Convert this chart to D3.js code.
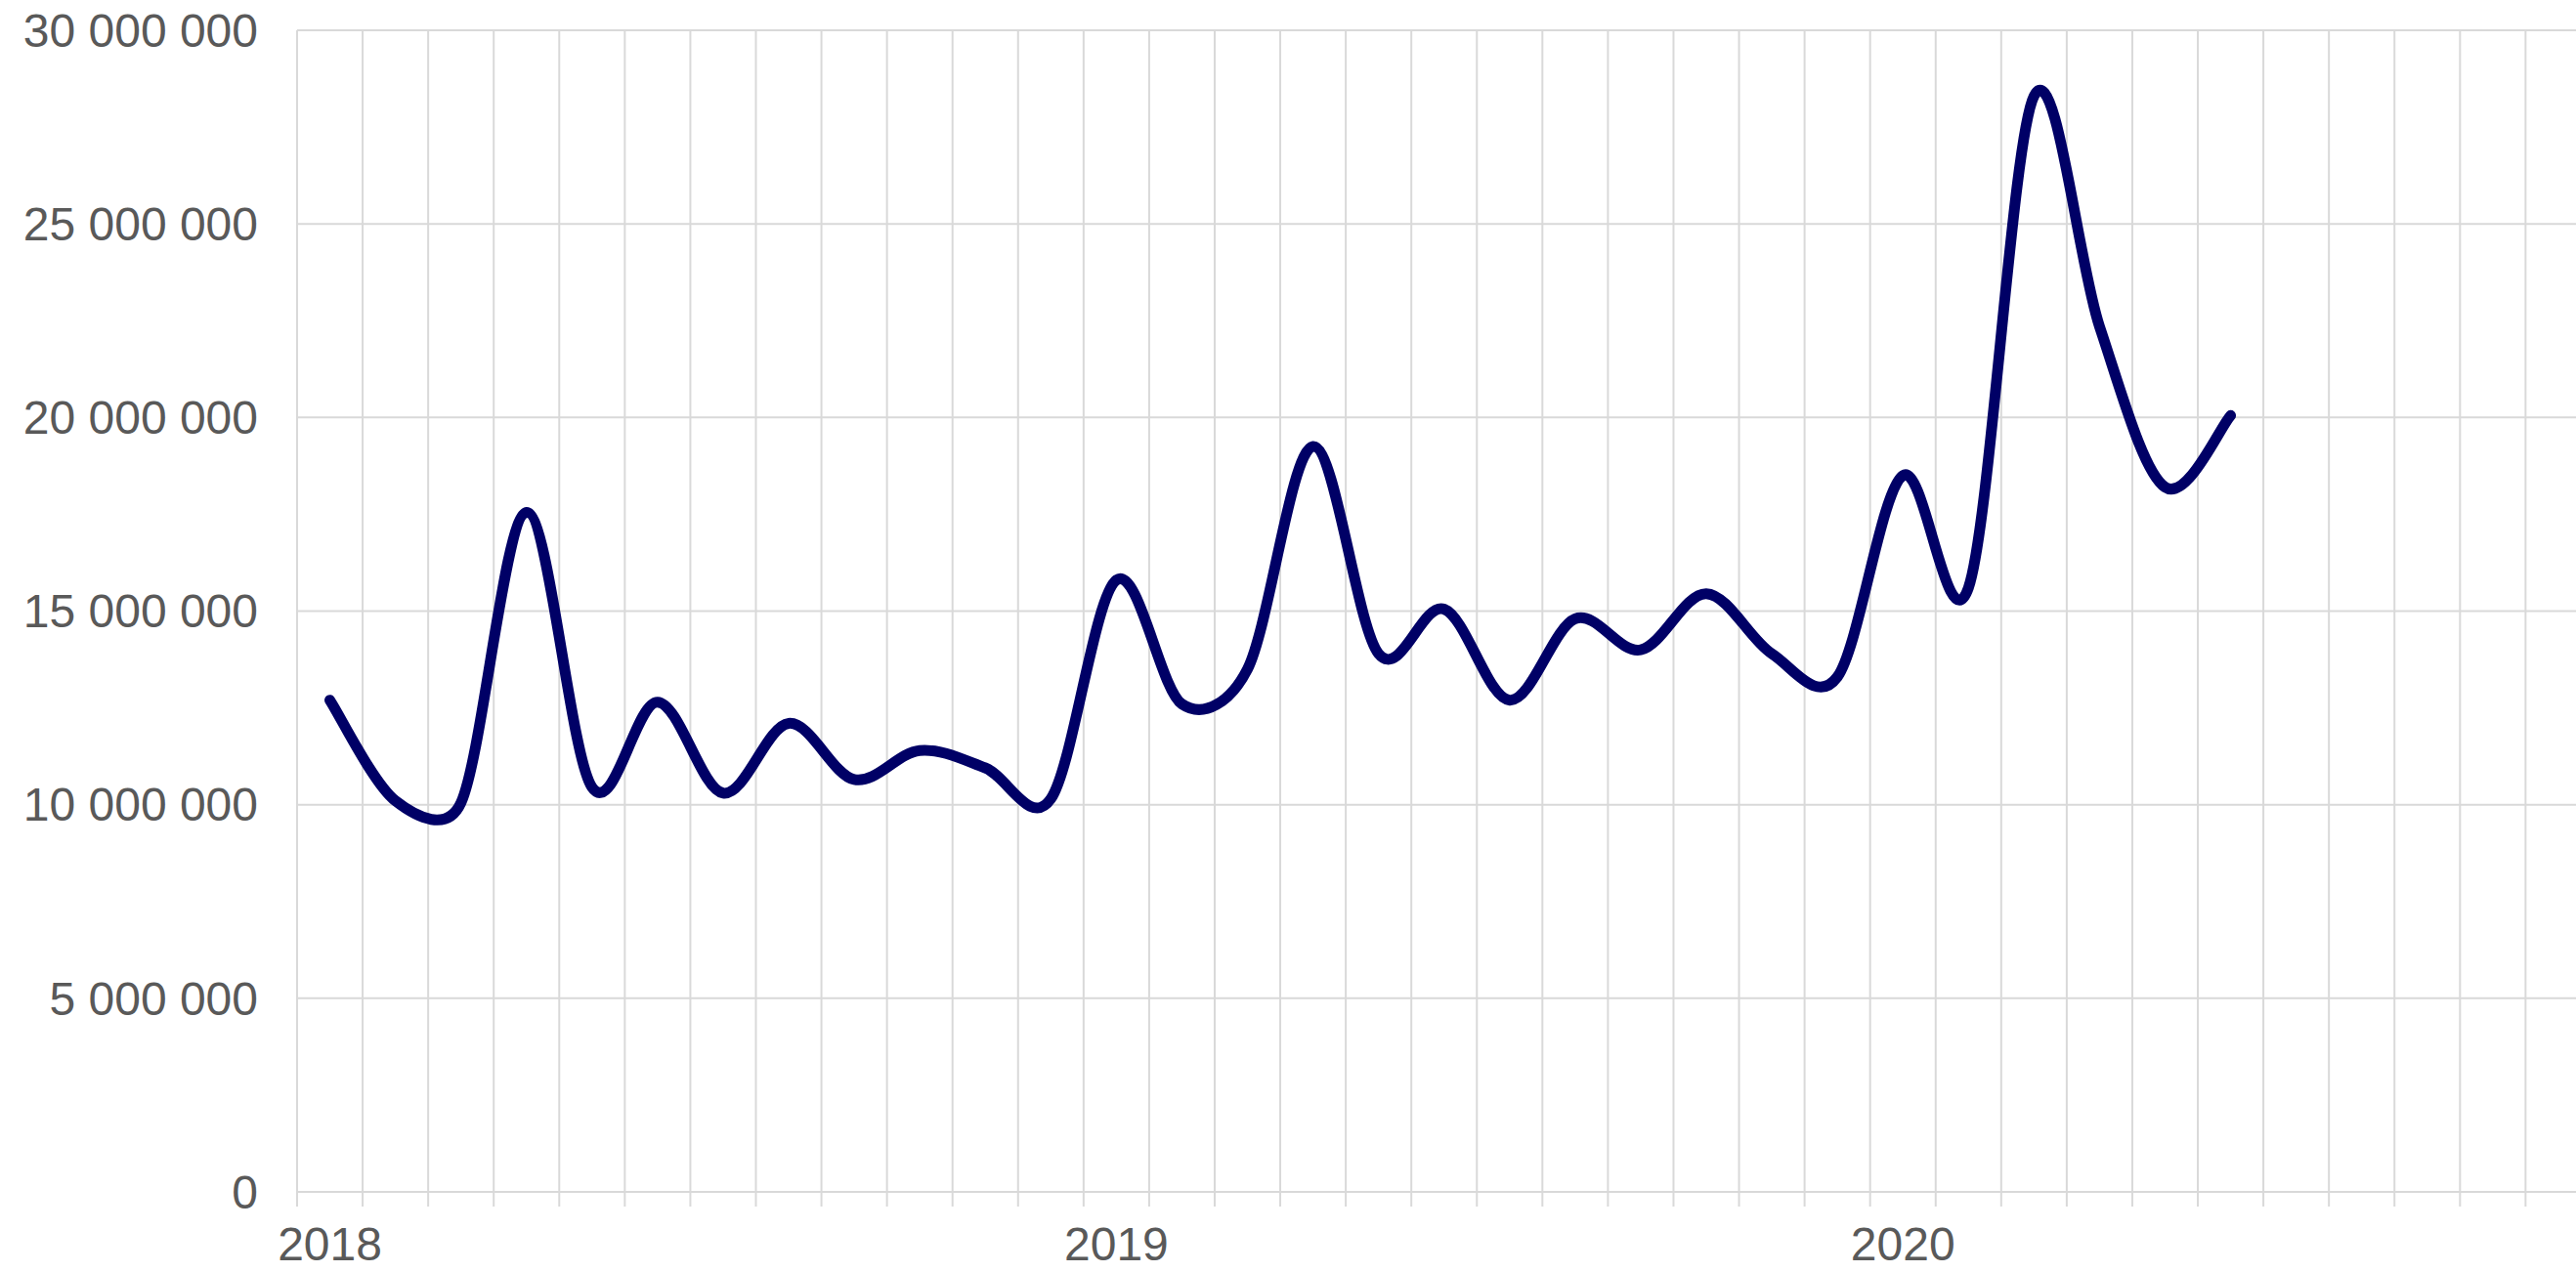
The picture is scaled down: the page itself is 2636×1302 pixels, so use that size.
<!DOCTYPE html>
<html>
  <head>
    <meta charset="utf-8">
    <title>Monthly values 2018-2020</title>
    <script src="https://cdn.jsdelivr.net/npm/d3@7"></script>
    <style>
      body { margin: 0; background: #fff; }
      text { font-family: "Liberation Sans", Arial, sans-serif; fill: #595959; }
    </style>
  </head>
  <body>
    <svg width="2636" height="1302" id="mainsvg"></svg>
    <script>
        // categories
        const years = ['2018', '2019', '2020'];
        const monthNames = ['Jan', 'Feb', 'Mar', 'Apr', 'May', 'Jun', 'Jul', 'Aug', 'Sep', 'Oct', 'Nov', 'Dec'];

        // series values, one array per year (Jan..)
        const values2018 = [12700000, 10100000, 10050000, 17550000, 10450000, 12650000,
                            10300000, 12100000, 10650000, 11400000, 10950000, 10150000];
        const values2019 = [15800000, 12600000, 13500000, 19250000, 13900000, 15050000,
                            12700000, 14800000, 14000000, 15450000, 13900000, 13300000];
        const values2020 = [18500000, 15600000, 28300000, 22350000, 18200000, 20050000];

        // y ticks
        const yTicks = [0, 5000000, 10000000, 15000000, 20000000, 25000000, 30000000];

        const categories = [];
        years.forEach(y => monthNames.forEach(m => categories.push(y + '-' + m)));
        const series = [values2018, values2019, values2020];
        const data = [];
        series.forEach((vals, yi) => vals.forEach((v, mi) => {
          data.push({key: years[yi] + '-' + monthNames[mi], value: v});
        }));

        const svg = d3.select('#mainsvg');
        const margin = {top: 31, left: 304, bottom: 82};
        const height = +svg.attr('height');
        const plotBottom = height - margin.bottom;
        const bandW = 67.07;

        const xScale = d3.scaleBand()
          .domain(categories)
          .range([margin.left, margin.left + bandW * categories.length])
          .padding(0);

        const yScale = d3.scaleLinear()
          .domain([0, 30000000])
          .range([plotBottom, margin.top]);

        const fmt = d3.formatLocale({decimal: ',', thousands: ' ', grouping: [3], currency: ['', '']}).format(',d');

        const grid = svg.append('g').attr('stroke', '#d9d9d9').attr('stroke-width', 2);

        // horizontal gridlines
        grid.selectAll('.hgrid').data(yTicks).join('line')
          .attr('class', 'hgrid')
          .attr('x1', margin.left).attr('x2', xScale.range()[1])
          .attr('y1', d => yScale(d)).attr('y2', d => yScale(d));

        // vertical gridlines at band edges, extended below as tick marks
        const edges = categories.map(c => xScale(c)).concat([xScale.range()[1]]);
        grid.selectAll('.vgrid').data(edges).join('line')
          .attr('class', 'vgrid')
          .attr('x1', d => d).attr('x2', d => d)
          .attr('y1', yScale(30000000)).attr('y2', plotBottom + 15);

        // y labels
        svg.append('g').selectAll('text').data(yTicks).join('text')
          .attr('x', 264)
          .attr('y', d => yScale(d))
          .attr('dy', '0.35em')
          .attr('text-anchor', 'end')
          .attr('font-size', 48)
          .text(d => fmt(d));

        // x labels: year under January
        svg.append('g').selectAll('text').data(years).join('text')
          .attr('x', d => xScale(d + '-Jan') + xScale.bandwidth() / 2)
          .attr('y', 1290)
          .attr('text-anchor', 'middle')
          .attr('font-size', 48)
          .text(d => d);

        // spreadsheet-style smoothing: catmull-rom bezier handles,
        // each capped at half the length of its segment
        function smoothPath(pts) {
          const p = d3.path();
          const dist = (a, b) => Math.hypot(b[0] - a[0], b[1] - a[1]);
          p.moveTo(pts[0][0], pts[0][1]);
          for (let i = 0; i < pts.length - 1; i++) {
            const p0 = pts[Math.max(i - 1, 0)], p1 = pts[i], p2 = pts[i + 1], p3 = pts[Math.min(i + 2, pts.length - 1)];
            const seg = dist(p1, p2);
            let f1 = 1 / 6, f2 = 1 / 6;
            const d02 = dist(p0, p2), d13 = dist(p1, p3);
            if (d02 * f1 > seg / 2) f1 = seg / 2 / d02;
            if (d13 * f2 > seg / 2) f2 = seg / 2 / d13;
            p.bezierCurveTo(
              p1[0] + (p2[0] - p0[0]) * f1, p1[1] + (p2[1] - p0[1]) * f1,
              p2[0] - (p3[0] - p1[0]) * f2, p2[1] - (p3[1] - p1[1]) * f2,
              p2[0], p2[1]);
          }
          return p.toString();
        }

        const pts = data.map(d => [xScale(d.key) + xScale.bandwidth() / 2, yScale(d.value)]);

        svg.append('path')
          .attr('d', smoothPath(pts))
          .attr('fill', 'none')
          .attr('stroke', '#000066')
          .attr('stroke-width', 11)
          .attr('stroke-linecap', 'round')
          .attr('stroke-linejoin', 'round');
    </script>
  </body>
</html>
